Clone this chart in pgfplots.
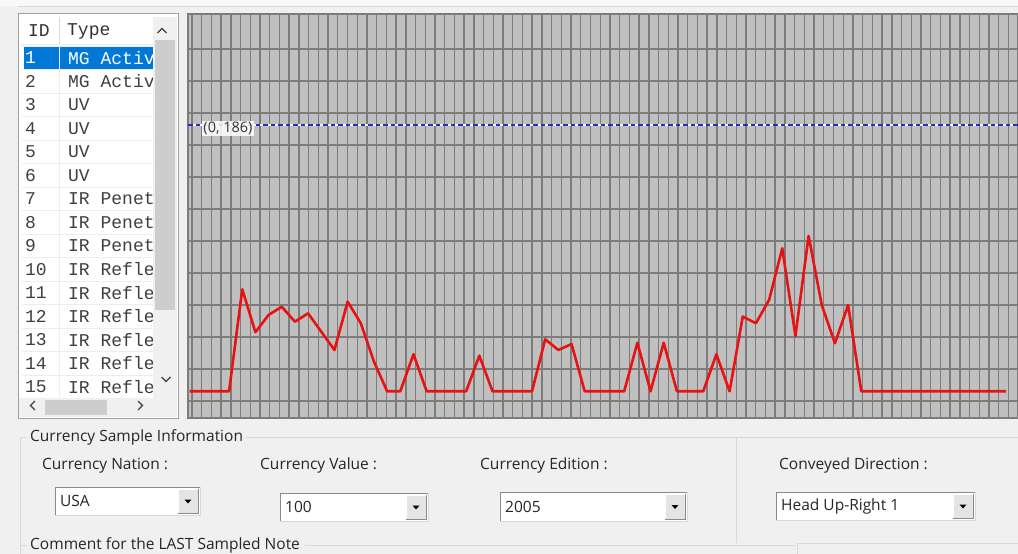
\documentclass[border=0pt]{standalone}
\usepackage{pgfplots}
\pgfplotsset{compat=1.18}
\usepackage{fontspec}
\setmainfont{Open Sans}
\newfontfamily\mono{Liberation Mono}
\newcommand\fs[1]{\fontsize{#1bp}{#1bp}\selectfont}

\definecolor{winbg}{HTML}{F0F0F0}
\definecolor{plotbg}{HTML}{C0C0C0}
\definecolor{gridc}{HTML}{7C7C7C}
\definecolor{sigred}{HTML}{E81212}
\definecolor{thrblue}{HTML}{2A2AC8}
\definecolor{selblue}{HTML}{0078D7}
\definecolor{thumb}{HTML}{CDCDCD}
\definecolor{framec}{HTML}{A0A0A0}
\definecolor{sepc}{HTML}{EDEDED}
\definecolor{btn}{HTML}{E4E4E4}
\definecolor{dark}{HTML}{8A8A8A}
\definecolor{lite}{HTML}{D8D8D8}

\pgfplotstableread{
x y
0 17
1 17
2 17
3 17
4 81.8
5 54.5
6 65.5
7 70.7
8 61.2
9 66.5
10 54.8
11 43.2
12 73.9
13 60.2
14 35.8
15 17
16 17
17 40.5
18 17
19 17
20 17
21 17
22 39.6
23 17
24 17
25 17
26 17
27 50.0
28 43.2
29 47.0
30 17
31 17
32 17
33 17
34 47.8
35 17
36 47.8
37 17
38 17
39 17
40 40.5
41 17
42 64.4
43 60.2
44 75.0
45 107.8
46 52.1
47 115.7
48 71.8
49 47.5
50 71.8
51 17
52 17
53 17
54 17
55 17
56 17
57 17
58 17
59 17
60 17
61 17
62 17
}\signal

\newcommand{\combo}[5]{%
  \fill[white] (#1,#2) rectangle (#3,#4);
  \draw[dark, line width=1bp] (#1,#4) -- (#1,#2) -- (#3,#2);
  \draw[lite, line width=1bp] (#3,#2) -- (#3,#4) -- (#1,#4);
  \fill[btn] ({#3-22},{#2+2}) rectangle ({#3-2},{#4-2});
  \draw[white, line width=1bp] ({#3-22},{#4-2}) -- ({#3-22},{#2+2}) -- ({#3-2},{#2+2});
  \draw[dark, line width=1bp] ({#3-2},{#2+2}) -- ({#3-2},{#4-2}) -- ({#3-22},{#4-2});
  \fill[black] ({#3-15.5},{(#2+#4)/2-1.5}) -- ({#3-8.5},{(#2+#4)/2-1.5}) -- ({#3-12},{(#2+#4)/2+2.5}) -- cycle;
  \node[anchor=west, inner sep=0pt, font=\fs{15.5}, text=black!85] at ({#1+5},{(#2+#4)/2}) {#5};
}

\begin{document}
\begin{tikzpicture}[x=1bp, y=-1bp]
\path[use as bounding box, fill=winbg] (0,0) rectangle (1018,554);
\fill[white!60!winbg] (0,0) rectangle (1018,6);
\draw[lite, line width=1bp] (18,7) -- (1018,7);

% ---------------- list view ----------------
\fill[white] (18,14) rectangle (178,418);
\draw[framec, line width=1bp] (18,14) rectangle (178,418);
% header
\draw[sepc, line width=1bp] (20,44.5) -- (153,44.5);
\draw[lite, line width=1bp] (59.5,17) -- (59.5,44);
\node[anchor=west, inner sep=0pt, font=\mono\fs{18}, text=black!80] at (28,31) {ID};
\node[anchor=west, inner sep=0pt, font=\mono\fs{18}, text=black!80] at (67,31) {Type};
% rows
\begin{scope}
\clip (20,45) rectangle (153,398);
\fill[selblue] (24,47) rectangle (153,69.5);
\foreach \k in {0,...,15} {
  \draw[sepc, line width=0.8bp] (22,{46+23.5*\k}) -- (153,{46+23.5*\k});
}
\draw[sepc, line width=0.8bp] (59.5,46) -- (59.5,398);
\foreach \i/\t in {1/MG Active,2/MG Active,3/UV,4/UV,5/UV,6/UV,7/IR Penetrate,8/IR Penetrate,9/IR Penetrate,10/IR Reflect,11/IR Reflect,12/IR Reflect,13/IR Reflect,14/IR Reflect,15/IR Reflect} {
  \ifnum\i=1 \def\tc{white}\else\def\tc{black!75}\fi
  \node[anchor=west, inner sep=0pt, text=\tc, font=\mono\fs{18}] at (25,{58+23.5*(\i-1)}) {\i};
  \node[anchor=west, inner sep=0pt, text=\tc, font=\mono\fs{18}] at (68,{58+23.5*(\i-1)}) {\t};
}
\end{scope}
% vertical scrollbar
\fill[winbg] (153,17) rectangle (177,398);
\fill[thumb] (155,40) rectangle (175,310);
\draw[black!75, line width=1.3bp] (157.5,33) -- (162,28.5) -- (166.5,33);
\draw[black!75, line width=1.3bp] (161.5,377) -- (166,381.5) -- (170.5,377);
% horizontal scrollbar
\fill[winbg] (19,398) rectangle (177,417);
\fill[thumb] (45,399.5) rectangle (107,414.5);
\draw[black!75, line width=1.3bp] (35,401) -- (30.5,405.5) -- (35,410);
\draw[black!75, line width=1.3bp] (138,401) -- (142.5,405.5) -- (138,410);

% ---------------- chart ----------------
\coordinate (plotSW) at (188,418);
\begin{axis}[
  at={(plotSW)}, anchor=south west,
  scale only axis, width=830bp, height=404bp,
  xmin=-0.12, xmax=62.9, ymin=0, ymax=256.7,
  xtick={0.182,0.920,...,62.9},
  ytick={10.80,31.134,...,240},
  xticklabels={}, yticklabels={},
  major tick length=0pt,
  grid=major,
  major grid style={draw=gridc, line width=1.4bp},
  axis background/.style={fill=plotbg},
  axis line style={draw=gridc, line width=1.4bp},
  clip=true,
]
\addplot[white, line width=1.6bp, forget plot] coordinates {(-0.12,186) (62.9,186)};
\addplot[thrblue, line width=1.6bp, dash pattern=on 4.5bp off 3bp, forget plot] coordinates {(-0.12,186) (62.9,186)};
\addplot[sigred, line width=2.6bp, line join=round, no markers] table[x=x, y=y] {\signal};
\end{axis}
\node[fill=white, fill opacity=0.85, text opacity=1, inner xsep=1.5bp, inner ysep=1.5bp, font=\fs{14.5}, text=black!80] at (228,128.5) {(0, 186)};

% ---------------- bottom panel ----------------
\draw[lite, line width=1bp] (20,437) -- (27,437);
\draw[lite, line width=1bp] (246,437) -- (1018,437);
\draw[lite, line width=1bp] (20,437) -- (20,554);
\draw[lite, line width=1bp] (736.5,437) -- (736.5,543);
\node[anchor=west, inner sep=0pt, font=\fs{15.5}, text=black!85] at (30,437.5) {Currency Sample Information};

\node[anchor=west, inner sep=0pt, font=\fs{15.5}, text=black!85] at (42,465.5) {Currency Nation :};
\node[anchor=west, inner sep=0pt, font=\fs{15.5}, text=black!85] at (260,465.5) {Currency Value :};
\node[anchor=west, inner sep=0pt, font=\fs{15.5}, text=black!85] at (480,465.5) {Currency Edition :};
\node[anchor=west, inner sep=0pt, font=\fs{15.5}, text=black!85] at (779,465.5) {Conveyed Direction :};

\combo{55}{487}{200}{515}{USA}
\combo{280}{493}{428}{521}{100}
\combo{500}{492}{687}{521}{2005}
\combo{776}{492}{975}{520}{Head Up-Right 1}

\draw[lite, line width=1bp] (20,545) -- (27,545);
\draw[lite, line width=1bp] (305,545) -- (795,545);
\draw[lite, line width=1bp] (797,543) -- (1018,543);
\draw[lite, line width=1bp] (797,543) -- (797,554);
\node[anchor=west, inner sep=0pt, font=\fs{15.5}, text=black!85] at (30,545) {Comment for the LAST Sampled Note};
\end{tikzpicture}
\end{document}
